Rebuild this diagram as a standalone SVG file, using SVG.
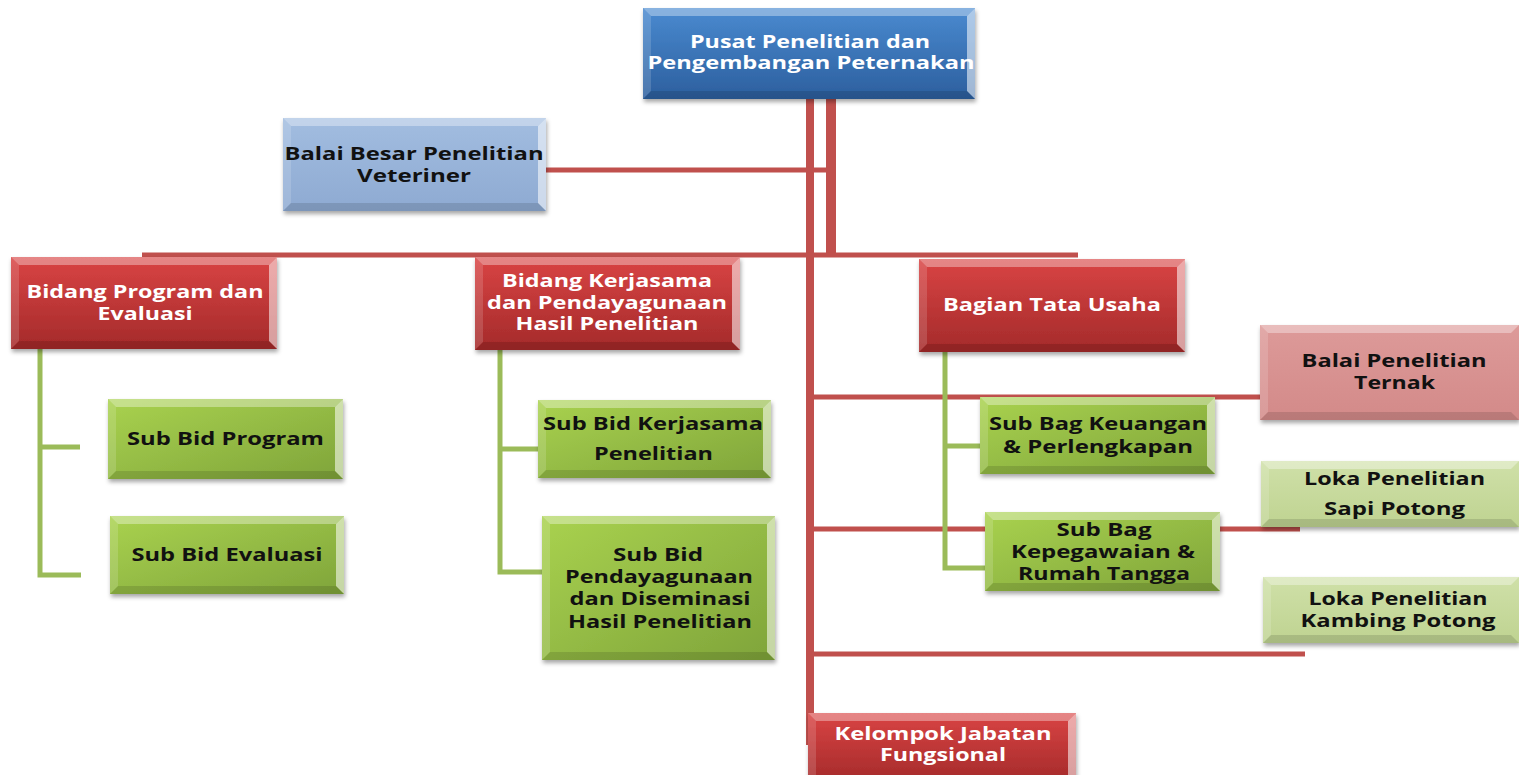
<svg xmlns="http://www.w3.org/2000/svg" width="1519" height="775" viewBox="0 0 1519 775">
<defs>
<linearGradient id="gBlue" x1="0" y1="0" x2="0" y2="1"><stop offset="0" stop-color="#4a8ad0"/><stop offset="1" stop-color="#2c5f9e"/></linearGradient>
<linearGradient id="gLBlue" x1="0" y1="0" x2="0" y2="1"><stop offset="0" stop-color="#a2bde0"/><stop offset="1" stop-color="#8eaad2"/></linearGradient>
<linearGradient id="gRed" x1="0" y1="0" x2="0" y2="1"><stop offset="0" stop-color="#d94444"/><stop offset="1" stop-color="#a42a2a"/></linearGradient>
<linearGradient id="gPink" x1="0" y1="0" x2="0" y2="1"><stop offset="0" stop-color="#dd9a99"/><stop offset="1" stop-color="#d38a89"/></linearGradient>
<linearGradient id="gGreen" x1="0" y1="0" x2="1" y2="1"><stop offset="0" stop-color="#a9d24f"/><stop offset="1" stop-color="#7fa43a"/></linearGradient>
<linearGradient id="gLGreen" x1="0" y1="0" x2="0" y2="1"><stop offset="0" stop-color="#cfe0a8"/><stop offset="1" stop-color="#bfd391"/></linearGradient>
<filter id="sh" x="-5%" y="-5%" width="115%" height="125%"><feDropShadow dx="1" dy="3" stdDeviation="2" flood-color="#000" flood-opacity="0.35"/></filter>
</defs>
<style>
.t{font-family:"Open Sans","DejaVu Sans",sans-serif;font-weight:bold;font-size:18.5px;text-anchor:middle}
.w{fill:#ffffff}
.k{fill:#111111}
.bt{fill:#ffffff;fill-opacity:0.35}
.br{fill:#ffffff;fill-opacity:0.55}
.bl{fill:#ffffff;fill-opacity:0.15}
.bb{fill:#000000;fill-opacity:0.12}
.rl{stroke:#c0504d;fill:none}
.gl{stroke:#9bbb59;fill:none;stroke-width:5}
</style>
<g id="connectors">
<line class="rl" x1="810" y1="99" x2="810" y2="745" stroke-width="8"/>
<line class="rl" x1="831" y1="99" x2="831" y2="257" stroke-width="10"/>
<line class="rl" x1="545" y1="170" x2="836" y2="170" stroke-width="5"/>
<line class="rl" x1="142" y1="255" x2="1078" y2="255" stroke-width="5"/>
<line class="rl" x1="810" y1="397" x2="1262" y2="397" stroke-width="5"/>
<line class="rl" x1="810" y1="529" x2="1300" y2="529" stroke-width="5"/>
<line class="rl" x1="810" y1="654" x2="1305" y2="654" stroke-width="5"/>
<polyline class="gl" points="40,349 40,575 81,575"/>
<line class="gl" x1="40" y1="447" x2="80" y2="447"/>
<polyline class="gl" points="500,350 500,572 543,572"/>
<line class="gl" x1="500" y1="449" x2="540" y2="449"/>
<polyline class="gl" points="945,352 945,568 985,568"/>
<line class="gl" x1="945" y1="446" x2="982" y2="446"/>
</g>
<g id="n-pusat">
<rect x="643" y="8" width="332" height="91" fill="url(#gBlue)" filter="url(#sh)"/>
<polygon class="bt" points="643,8 975,8 967,16 651,16"/><polygon class="br" points="975,8 975,99 967,91 967,16"/><polygon class="bl" points="643,8 651,16 651,91 643,99"/><polygon class="bb" points="643,99 651,91 967,91 975,99"/>
<text class="t w" x="810" y="48" textLength="240" lengthAdjust="spacingAndGlyphs">Pusat Penelitian dan</text><text class="t w" x="811" y="69" textLength="327" lengthAdjust="spacingAndGlyphs">Pengembangan Peternakan</text>
</g>
<g id="n-bbvet">
<rect x="283" y="118" width="263" height="93" fill="url(#gLBlue)" filter="url(#sh)"/>
<polygon class="bt" points="283,118 546,118 538,126 291,126"/><polygon class="br" points="546,118 546,211 538,203 538,126"/><polygon class="bl" points="283,118 291,126 291,203 283,211"/><polygon class="bb" points="283,211 291,203 538,203 546,211"/>
<text class="t k" x="414" y="160" textLength="259" lengthAdjust="spacingAndGlyphs">Balai Besar Penelitian</text><text class="t k" x="414" y="182" textLength="114" lengthAdjust="spacingAndGlyphs">Veteriner</text>
</g>
<g id="n-bpe">
<rect x="11" y="257" width="266" height="92" fill="url(#gRed)" filter="url(#sh)"/>
<polygon class="bt" points="11,257 277,257 269,265 19,265"/><polygon class="br" points="277,257 277,349 269,341 269,265"/><polygon class="bl" points="11,257 19,265 19,341 11,349"/><polygon class="bb" points="11,349 19,341 269,341 277,349"/>
<text class="t w" x="145" y="298" textLength="237" lengthAdjust="spacingAndGlyphs">Bidang Program dan</text><text class="t w" x="145" y="320" textLength="95" lengthAdjust="spacingAndGlyphs">Evaluasi</text>
</g>
<g id="n-bkp">
<rect x="475" y="257" width="265" height="93" fill="url(#gRed)" filter="url(#sh)"/>
<polygon class="bt" points="475,257 740,257 732,265 483,265"/><polygon class="br" points="740,257 740,350 732,342 732,265"/><polygon class="bl" points="475,257 483,265 483,342 475,350"/><polygon class="bb" points="475,350 483,342 732,342 740,350"/>
<text class="t w" x="607" y="287" textLength="210" lengthAdjust="spacingAndGlyphs">Bidang Kerjasama</text><text class="t w" x="607" y="309" textLength="240" lengthAdjust="spacingAndGlyphs">dan Pendayagunaan</text><text class="t w" x="607" y="330" textLength="183" lengthAdjust="spacingAndGlyphs">Hasil Penelitian</text>
</g>
<g id="n-btu">
<rect x="919" y="259" width="266" height="93" fill="url(#gRed)" filter="url(#sh)"/>
<polygon class="bt" points="919,259 1185,259 1177,267 927,267"/><polygon class="br" points="1185,259 1185,352 1177,344 1177,267"/><polygon class="bl" points="919,259 927,267 927,344 919,352"/><polygon class="bb" points="919,352 927,344 1177,344 1185,352"/>
<text class="t w" x="1052" y="311" textLength="218" lengthAdjust="spacingAndGlyphs">Bagian Tata Usaha</text>
</g>
<g id="n-sbprog">
<rect x="108" y="399" width="235" height="80" fill="url(#gGreen)" filter="url(#sh)"/>
<polygon class="bt" points="108,399 343,399 335,407 116,407"/><polygon class="br" points="343,399 343,479 335,471 335,407"/><polygon class="bl" points="108,399 116,407 116,471 108,479"/><polygon class="bb" points="108,479 116,471 335,471 343,479"/>
<text class="t k" x="225.5" y="445" textLength="197" lengthAdjust="spacingAndGlyphs">Sub Bid Program</text>
</g>
<g id="n-sbeval">
<rect x="110" y="516" width="234" height="78" fill="url(#gGreen)" filter="url(#sh)"/>
<polygon class="bt" points="110,516 344,516 336,524 118,524"/><polygon class="br" points="344,516 344,594 336,586 336,524"/><polygon class="bl" points="110,516 118,524 118,586 110,594"/><polygon class="bb" points="110,594 118,586 336,586 344,594"/>
<text class="t k" x="227" y="561" textLength="191" lengthAdjust="spacingAndGlyphs">Sub Bid Evaluasi</text>
</g>
<g id="n-sbker">
<rect x="538" y="400" width="233" height="78" fill="url(#gGreen)" filter="url(#sh)"/>
<polygon class="bt" points="538,400 771,400 763,408 546,408"/><polygon class="br" points="771,400 771,478 763,470 763,408"/><polygon class="bl" points="538,400 546,408 546,470 538,478"/><polygon class="bb" points="538,478 546,470 763,470 771,478"/>
<text class="t k" x="653" y="430" textLength="220" lengthAdjust="spacingAndGlyphs">Sub Bid Kerjasama</text><text class="t k" x="653.5" y="460" textLength="119" lengthAdjust="spacingAndGlyphs">Penelitian</text>
</g>
<g id="n-sbpen">
<rect x="542" y="516" width="233" height="144" fill="url(#gGreen)" filter="url(#sh)"/>
<polygon class="bt" points="542,516 775,516 767,524 550,524"/><polygon class="br" points="775,516 775,660 767,652 767,524"/><polygon class="bl" points="542,516 550,524 550,652 542,660"/><polygon class="bb" points="542,660 550,652 767,652 775,660"/>
<text class="t k" x="658" y="561" textLength="90" lengthAdjust="spacingAndGlyphs">Sub Bid</text><text class="t k" x="659" y="583" textLength="188" lengthAdjust="spacingAndGlyphs">Pendayagunaan</text><text class="t k" x="660" y="605" textLength="181" lengthAdjust="spacingAndGlyphs">dan Diseminasi</text><text class="t k" x="660" y="628" textLength="184" lengthAdjust="spacingAndGlyphs">Hasil Penelitian</text>
</g>
<g id="n-sbkeu">
<rect x="980" y="397" width="235" height="77" fill="url(#gGreen)" filter="url(#sh)"/>
<polygon class="bt" points="980,397 1215,397 1207,405 988,405"/><polygon class="br" points="1215,397 1215,474 1207,466 1207,405"/><polygon class="bl" points="980,397 988,405 988,466 980,474"/><polygon class="bb" points="980,474 988,466 1207,466 1215,474"/>
<text class="t k" x="1098" y="430" textLength="218" lengthAdjust="spacingAndGlyphs">Sub Bag Keuangan</text><text class="t k" x="1098" y="453" textLength="190" lengthAdjust="spacingAndGlyphs">&amp; Perlengkapan</text>
</g>
<g id="n-sbkep">
<rect x="985" y="512" width="235" height="79" fill="url(#gGreen)" filter="url(#sh)"/>
<polygon class="bt" points="985,512 1220,512 1212,520 993,520"/><polygon class="br" points="1220,512 1220,591 1212,583 1212,520"/><polygon class="bl" points="985,512 993,520 993,583 985,591"/><polygon class="bb" points="985,591 993,583 1212,583 1220,591"/>
<text class="t k" x="1104" y="536" textLength="95" lengthAdjust="spacingAndGlyphs">Sub Bag</text><text class="t k" x="1103" y="558" textLength="184" lengthAdjust="spacingAndGlyphs">Kepegawaian &amp;</text><text class="t k" x="1104" y="580" textLength="172" lengthAdjust="spacingAndGlyphs">Rumah Tangga</text>
</g>
<g id="n-bpt">
<rect x="1260" y="325" width="259" height="95" fill="url(#gPink)" filter="url(#sh)"/>
<polygon class="bt" points="1260,325 1519,325 1511,333 1268,333"/><polygon class="bl" points="1260,325 1268,333 1268,412 1260,420"/><polygon class="bb" points="1260,420 1268,412 1511,412 1519,420"/>
<text class="t k" x="1394" y="367" textLength="185" lengthAdjust="spacingAndGlyphs">Balai Penelitian</text><text class="t k" x="1394.5" y="389" textLength="81" lengthAdjust="spacingAndGlyphs">Ternak</text>
</g>
<g id="n-lsapi">
<rect x="1261" y="461" width="258" height="66" fill="url(#gLGreen)" filter="url(#sh)"/>
<polygon class="bt" points="1261,461 1519,461 1511,469 1269,469"/><polygon class="bl" points="1261,461 1269,469 1269,519 1261,527"/><polygon class="bb" points="1261,527 1269,519 1511,519 1519,527"/>
<text class="t k" x="1394.5" y="485" textLength="181" lengthAdjust="spacingAndGlyphs">Loka Penelitian</text><text class="t k" x="1394.5" y="515" textLength="141" lengthAdjust="spacingAndGlyphs">Sapi Potong</text>
</g>
<g id="n-lkamb">
<rect x="1263" y="577" width="256" height="66" fill="url(#gLGreen)" filter="url(#sh)"/>
<polygon class="bt" points="1263,577 1519,577 1511,585 1271,585"/><polygon class="bl" points="1263,577 1271,585 1271,635 1263,643"/><polygon class="bb" points="1263,643 1271,635 1511,635 1519,643"/>
<text class="t k" x="1398" y="605" textLength="179" lengthAdjust="spacingAndGlyphs">Loka Penelitian</text><text class="t k" x="1398" y="627" textLength="195" lengthAdjust="spacingAndGlyphs">Kambing Potong</text>
</g>
<g id="n-kjf">
<rect x="808" y="713" width="268" height="70" fill="url(#gRed)" filter="url(#sh)"/>
<polygon class="bt" points="808,713 1076,713 1068,721 816,721"/><polygon class="br" points="1076,713 1076,775 1068,775 1068,721"/><polygon class="bl" points="808,713 816,721 816,775 808,775"/>
<text class="t w" x="943" y="740" textLength="217" lengthAdjust="spacingAndGlyphs">Kelompok Jabatan</text><text class="t w" x="943" y="761" textLength="126" lengthAdjust="spacingAndGlyphs">Fungsional</text>
</g>
</svg>
